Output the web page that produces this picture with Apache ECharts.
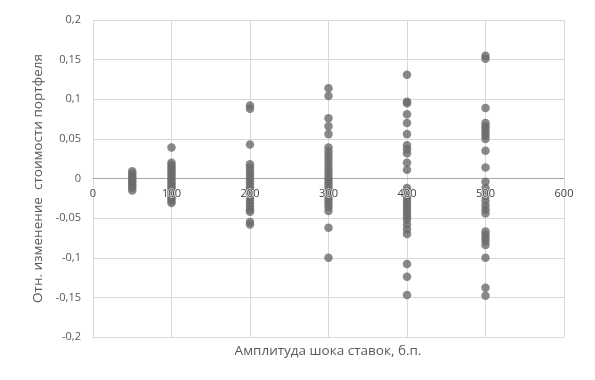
<!DOCTYPE html>
<html>
<head>
<meta charset="utf-8">
<script src="https://cdn.jsdelivr.net/npm/echarts@6/dist/echarts.min.js"></script>
<style>html,body{margin:0;padding:0;background:#fff}#c{width:595px;height:380px}</style>
</head>
<body>
<div id="c"></div>
<script>
var xTitle = 'Амплитуда шока ставок, б.п.';
var yTitle = 'Отн. изменение  стоимости портфеля';
var shocks = [50, 100, 200, 300, 400, 500];
var vals50 = [0.009, 0.006, 0.003, 0.001, -0.002, -0.004, -0.007, -0.009, -0.012, -0.015];
var vals100 = [0.039, 0.02, 0.017, 0.014, 0.011, 0.008, 0.005, 0.002, -0.001, -0.004, -0.007, -0.01, -0.013, -0.016, -0.019, -0.022, -0.025, -0.028, -0.031];
var vals200 = [0.092, 0.088, 0.043, 0.018, 0.014, 0.009, 0.005, 0.001, -0.003, -0.007, -0.011, -0.015, -0.019, -0.023, -0.027, -0.031, -0.035, -0.039, -0.042, -0.055, -0.058];
var vals300 = [0.114, 0.104, 0.076, 0.066, 0.056, 0.039, 0.034, 0.029, 0.024, 0.019, 0.014, 0.009, 0.004, 0, -0.004, -0.008, -0.012, -0.016, -0.02, -0.024, -0.028, -0.032, -0.036, -0.041, -0.062, -0.1];
var vals400 = [0.131, 0.097, 0.095, 0.081, 0.07, 0.056, 0.042, 0.037, 0.032, 0.02, 0.011, -0.012, -0.016, -0.02, -0.024, -0.028, -0.032, -0.036, -0.04, -0.044, -0.048, -0.052, -0.058, -0.064, -0.07, -0.108, -0.124, -0.147];
var vals500 = [0.155, 0.151, 0.089, 0.07, 0.066, 0.062, 0.058, 0.054, 0.05, 0.035, 0.014, -0.004, -0.012, -0.017, -0.022, -0.028, -0.034, -0.039, -0.044, -0.067, -0.071, -0.075, -0.079, -0.084, -0.1, -0.138, -0.148];
var xTicks = [0, 100, 200, 300, 400, 500, 600];
var yTicks = [-0.2, -0.15, -0.1, -0.05, 0, 0.05, 0.1, 0.15, 0.2];

var groups = [vals50, vals100, vals200, vals300, vals400, vals500];
var data = [];
groups.forEach(function (g, i) {
  g.forEach(function (v) { data.push([shocks[i], v]); });
});

var chart = echarts.init(document.getElementById('c'));
var font = '"Open Sans", "DejaVu Sans", sans-serif';
var gridTop = 20, gridBottom = 43, H = 380;
var plotH = H - gridTop - gridBottom;
var yMin = yTicks[0], yMax = yTicks[yTicks.length - 1];
var xMin = xTicks[0], xMax = xTicks[xTicks.length - 1];
var zeroFromBottom = plotH * (0 - yMin) / (yMax - yMin);
chart.setOption({
  animation: false,
  grid: { left: 93, right: 31, top: gridTop, bottom: gridBottom },
  xAxis: [{
    type: 'value', min: xMin, max: xMax, interval: 100,
    position: 'bottom', offset: -zeroFromBottom,
    axisLine: { onZero: false, lineStyle: { color: '#a6a6a6', width: 1 } },
    axisTick: { show: false },
    axisLabel: { show: false },
    splitLine: { show: true, lineStyle: { color: '#d9d9d9', width: 1 } }
  }, {
    type: 'value', min: xMin, max: xMax, interval: 100, zlevel: 1, z: 10,
    position: 'bottom', offset: -zeroFromBottom,
    axisLine: { show: false, onZero: false },
    axisTick: { show: false },
    axisLabel: {
      color: '#404040', fontSize: 11, fontFamily: font, margin: 10,
      textBorderColor: 'rgba(255,255,255,0.8)', textBorderWidth: 1.5
    },
    splitLine: { show: false }
  }],
  yAxis: {
    type: 'value', min: yMin, max: yMax, interval: 0.05,
    axisLine: { show: false },
    axisTick: { show: false },
    axisLabel: {
      color: '#595959', fontSize: 11, fontFamily: font, margin: 12,
      formatter: function (v) { return String(Math.round(v * 100) / 100).replace('.', ','); }
    },
    splitLine: { show: true, lineStyle: { color: '#d9d9d9', width: 1 } },
    name: yTitle, nameLocation: 'middle', nameGap: 48,
    nameTextStyle: { color: '#595959', fontSize: 13.5, fontFamily: font }
  },
  graphic: [{
    type: 'text', x: 328, y: 344,
    style: { text: xTitle, fill: '#595959', fontSize: 13.5, fontFamily: font, textAlign: 'center' }
  }],
  series: [{
    type: 'scatter', data: data, symbol: 'circle', symbolSize: 8.5,
    xAxisIndex: 0,
    itemStyle: { color: '#6b6b6b' }
  }]
});
</script>
</body>
</html>
